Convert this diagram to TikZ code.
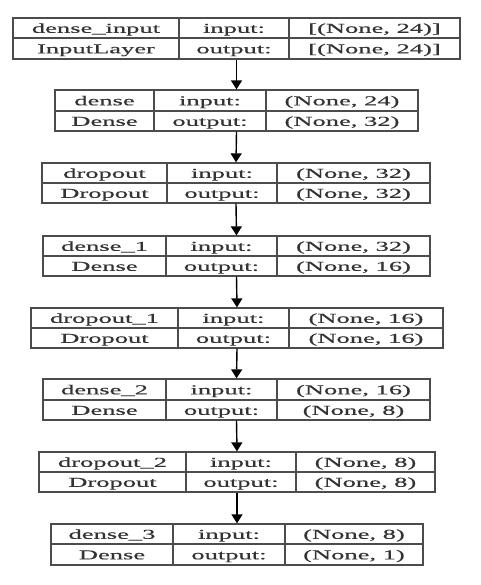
\documentclass[tikz,border=0pt]{standalone}
\usepackage{fontspec}
\usetikzlibrary{arrows.meta}
\newfontfamily\cellfont[FakeStretch=1.95,FakeBold=0.5]{Liberation Serif}
\begin{document}
\begin{tikzpicture}[x=1pt,y=-1pt,
  layerbox/.style={draw=black!70, line width=1.3pt, inner sep=0pt},
  divider/.style={draw=black!70, line width=1.3pt},
  celltext/.style={anchor=base, inner sep=0pt, text=black!80,
    font=\cellfont\fontsize{13.6}{16}\selectfont},
  arr/.style={draw=black, line width=1.4pt, -{Triangle[length=9pt,width=11pt]}}]
\useasboundingbox (0,0) rectangle (480,585);
\fill[white] (0,0) rectangle (480,585);
% layers: index / left / divider 1 / divider 2 / right / top / middle / bottom / name / type / input / output
\foreach \i/\xl/\da/\db/\xr/\yt/\ym/\yb/\na/\ty/\vi/\vo in {
  1/13/179/289/460/18/38/59/dense\_input/InputLayer/{[(None, 24)]}/{[(None, 24)]},
  2/55/154/266/418/90/111/131/dense/Dense/{(None, 24)}/{(None, 32)},
  3/42/167/277/430/163/183/203/dropout/Dropout/{(None, 32)}/{(None, 32)},
  4/43/166/277/430/236/256/276/dense\_1/Dense/{(None, 32)}/{(None, 16)},
  5/31/178/289/443/308/328/348/dropout\_1/Dropout/{(None, 16)}/{(None, 16)},
  6/43/166/277/430/379/400/420/dense\_2/Dense/{(None, 16)}/{(None, 8)},
  7/39/186/296/435/452/472/492/dropout\_2/Dropout/{(None, 8)}/{(None, 8)},
  8/51/173/285/423/524/544/565/dense\_3/Dense/{(None, 8)}/{(None, 1)}}{
  \node[layerbox, minimum width={(\xr-\xl)*1pt}, minimum height={(\yb-\yt)*1pt}]
    (L\i) at ({(\xl+\xr)/2},{(\yt+\yb)/2}) {};
  \draw[divider] (\xl,\ym) -- (\xr,\ym);
  \draw[divider] (\da,\yt) -- (\da,\yb);
  \draw[divider] (\db,\yt) -- (\db,\yb);
  \node[celltext] (N\i) at ({(\xl+\da)/2},{(\yt+\ym)/2+4.8}) {\na};
  \node[celltext] (T\i) at ({(\xl+\da)/2},{(\ym+\yb)/2+4.8}) {\ty};
  \node[celltext] (IL\i) at ({(\da+\db)/2},{(\yt+\ym)/2+4.8}) {input:};
  \node[celltext] (OL\i) at ({(\da+\db)/2},{(\ym+\yb)/2+4.8}) {output:};
  \node[celltext] (IV\i) at ({(\db+\xr)/2},{(\yt+\ym)/2+4.8}) {\vi};
  \node[celltext] (OV\i) at ({(\db+\xr)/2},{(\ym+\yb)/2+4.8}) {\vo};
}
\foreach \i [evaluate=\i as \j using int(\i+1)] in {1,...,7}
  \draw[arr] (L\i.south) -- (L\j.north);
\end{tikzpicture}
\end{document}
